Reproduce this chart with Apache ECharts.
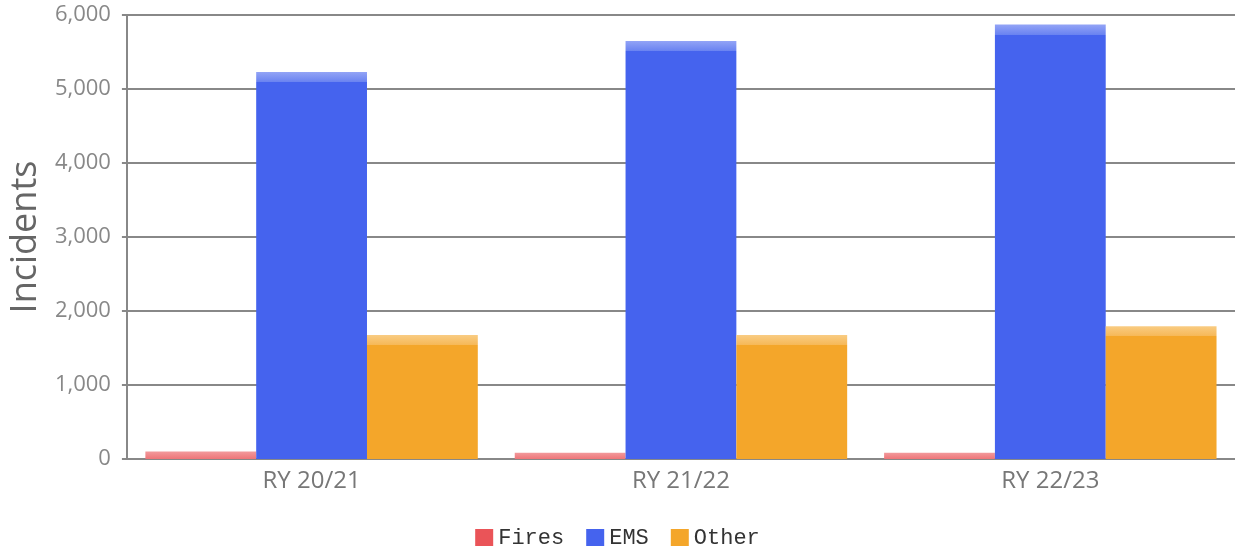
<!DOCTYPE html>
<html><head><meta charset="utf-8">
<script src="https://cdn.jsdelivr.net/npm/echarts@6/dist/echarts.min.js"></script>
<style>html,body{margin:0;padding:0;background:#fff}#c{width:1235px;height:546px}</style>
</head><body><div id="c"></div>
<script>
const categories = ['RY 20/21', 'RY 21/22', 'RY 22/23'];
const fires = [100, 85, 85];
const ems = [5230, 5650, 5870];
const other = [1675, 1675, 1795];
const yTicks = [0, 1000, 2000, 3000, 4000, 5000, 6000];

const chart = echarts.init(document.getElementById('c'));
const pxPerUnit = 444 / 6000;
function bevel(base, light, mid, v) {
  const h = v * pxPerUnit;
  const f = Math.min(1, 10 / Math.max(h, 1));
  return {
    color: { type: 'linear', x: 0, y: 0, x2: 0, y2: 1, colorStops: [
      { offset: 0, color: light }, { offset: f, color: mid },
      { offset: f, color: base }, { offset: 1, color: base }] }
  };
}
function mk(name, vals, base, light, mid) {
  return {
    name, type: 'bar', barGap: '0%', barCategoryGap: '10%',
    itemStyle: { color: base },
    data: vals.map(v => ({ value: v, itemStyle: bevel(base, light, mid, v) }))
  };
}
chart.setOption({
  animation: false,
  grid: { left: 122, top: 15, right: 0, bottom: 87 },
  legend: {
    top: 522, left: 'center', itemWidth: 18, itemHeight: 18, itemGap: 22,
    icon: 'rect',
    textStyle: { fontFamily: 'Liberation Mono', fontSize: 22, color: '#333' },
    data: ['Fires', 'EMS', 'Other']
  },
  xAxis: {
    type: 'category', data: categories,
    axisLine: { lineStyle: { color: '#888', width: 2 } },
    axisTick: { alignWithLabel: true, length: 6, lineStyle: { color: '#888', width: 2 } },
    axisLabel: { fontFamily: 'Open Sans', fontSize: 24, color: '#777', margin: 10 }
  },
  yAxis: {
    type: 'value', min: 0, max: 6000, interval: 1000,
    name: 'Incidents', nameLocation: 'middle', nameGap: 77, nameRotate: 90,
    nameTextStyle: { fontFamily: 'Open Sans', fontSize: 36, color: '#666' },
    axisLine: { show: true, lineStyle: { color: '#888', width: 2 } },
    axisTick: { show: true, length: 5, lineStyle: { color: '#888', width: 2 } },
    splitLine: { lineStyle: { color: '#888', width: 2 } },
    axisLabel: { fontFamily: 'Open Sans', fontSize: 22, color: '#888', margin: 16,
      formatter: v => yTicks.includes(v) ? v.toLocaleString('en-US') : '' }
  },
  series: [
    mk('Fires', fires, '#ea5458', '#f29a9c', '#ee7578'),
    mk('EMS', ems, '#4563ee', '#93a4f6', '#6a83f1'),
    mk('Other', other, '#f4a62a', '#f9cc83', '#f6b857')
  ]
});
</script></body></html>
